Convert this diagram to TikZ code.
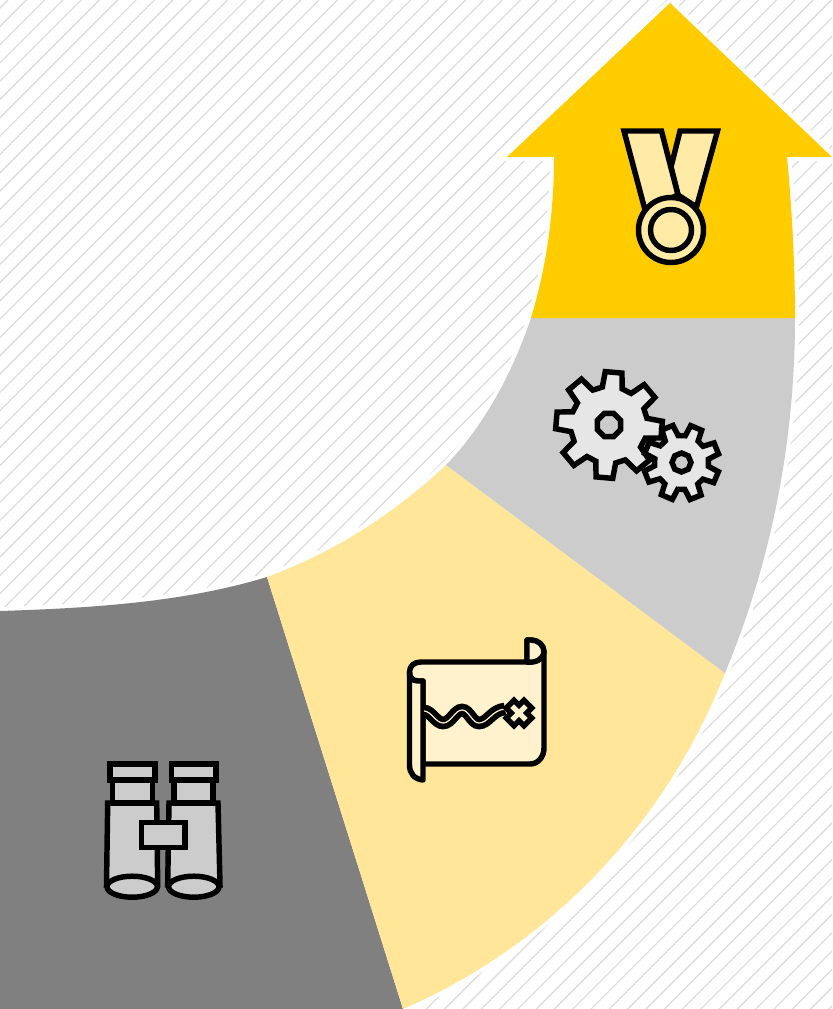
\documentclass[tikz,border=0pt]{standalone}
\definecolor{ygold}{HTML}{FFCC00}
\definecolor{ylight}{HTML}{FFE699}
\definecolor{ypale}{HTML}{FFF2CC}
\definecolor{medalpale}{HTML}{FFEBA6}
\definecolor{gearfill}{HTML}{E6E6E6}
\definecolor{midgray}{HTML}{CCCCCC}
\definecolor{darkgray}{HTML}{808080}
\definecolor{stripe}{HTML}{DADADA}
\tikzset{
  icon/.style={draw=black,line width=4.1pt,line join=miter,miter limit=3},
  stripeline/.style={draw=stripe,line width=0.85pt},
}
\newcommand{\gearpath}[5]{% rot, tip radius, root radius, tip half angle, root half angle
  (#1-#4:#2)
  \foreach \i in {0,45,...,315} {
    -- (#1+\i-#4:#2) -- (#1+\i+#4:#2) -- (#1+\i+#5:#3) -- (#1+\i+45-#5:#3)
  } -- cycle
}
\begin{document}
\begin{tikzpicture}[x=0.75pt,y=-0.75pt]
\useasboundingbox (0,0) rectangle (832,1009);
\fill[white] (0,0) rectangle (832,1009);
\begin{scope}
\clip (0,0) rectangle (832,1009);
\foreach \c in {8,26.3,...,1850} {
  \draw[stripeline] (\c,0) -- (\c-1100,1100);
}
% white halo round the band
\draw[white,line width=6pt,line join=round] (0,611) .. controls (95,608) and (185,602) .. (267,577) .. controls (335,552) and (395,513) .. (446,465) .. controls (480,430) and (510,380) .. (531,318) .. controls (546,268) and (554,215) .. (554,157) -- (507,157) -- (670,3) -- (832,157) -- (787,157) .. controls (792,210) and (795,265) .. (795,318) .. controls (795,445) and (770,565) .. (725,673) .. controls (665,825) and (550,945) .. (403,1009);
\end{scope}
% band segments
\fill[darkgray] (0,611) .. controls (95,608) and (185,602) .. (267,577) -- (403,1009) -- (0,1009) -- cycle;
\fill[ylight] (267,577) .. controls (335,552) and (395,513) .. (446,465) -- (725,673) .. controls (665,825) and (550,945) .. (403,1009) -- cycle;
\fill[midgray] (446,465) .. controls (480,430) and (510,380) .. (531,318) -- (795,318) .. controls (795,445) and (770,565) .. (725,673) -- cycle;
\fill[ygold] (531,318) .. controls (546,268) and (554,215) .. (554,157) -- (507,157) -- (670,3) -- (832,157) -- (787,157) .. controls (792,210) and (795,265) .. (795,318) -- cycle;
% medal
\draw[icon,fill=medalpale] (680,131) -- (717.5,131) -- (696.5,207) -- (678,195) -- (671,167) -- cycle;
\draw[icon,fill=medalpale] (624,131) -- (661.5,131) -- (678,195) -- (645,210) -- cycle;
\draw[icon,fill=medalpale] (671,230) circle[radius=32.5];
\draw[icon,fill=medalpale] (671,230) circle[radius=20.5];
% gears
\begin{scope}[shift={(609,425)}]
  \draw[icon,fill=gearfill] \gearpath{-85}{53.5}{38.5}{9}{15};
  \draw[icon,fill=midgray] (22.5:12.5) \foreach \i in {67.5,112.5,...,382.5} { -- (\i:12.5) } -- cycle;
\end{scope}
\begin{scope}[shift={(681.5,462.5)}]
  \draw[icon,fill=gearfill] \gearpath{-67}{38}{27}{9}{15};
  \draw[icon,fill=midgray] (0:9.5) \foreach \i in {45,90,...,315} { -- (\i:9.5) } -- cycle;
\end{scope}
% map
\draw[icon,fill=ypale,line join=round] (423,681) -- (418,681) .. controls (412,681) and (409,677) .. (409.5,672) .. controls (409.5,666) and (414,662) .. (421,662) -- (527,662) -- (527,640) -- (531,640) .. controls (538,640) and (544,645) .. (544,652) -- (544,748) .. controls (544,757) and (538,764) .. (530,764) -- (423,764) -- cycle;
\draw[icon,fill=ypale,line join=round] (527,662) .. controls (535,663) and (543,660) .. (544,652) .. controls (544,645) and (538,640) .. (531,640) -- (527,640) -- cycle;
\draw[icon,fill=ypale,line join=round] (409.5,672) .. controls (409.5,677) and (412,681) .. (418,681) -- (423,681) -- (423,780) .. controls (414,779) and (409.5,773) .. (409.5,765) -- cycle;
\draw[line width=9.5pt,black] (424,711) .. controls (431,711) and (436,723) .. (443,723) .. controls (451,723) and (455,710) .. (462,710) .. controls (469,710) and (472,723) .. (479,723) .. controls (488,723) and (492,710) .. (505,709);
\draw[line width=0.9pt,ypale] (424,711) .. controls (431,711) and (436,723) .. (443,723) .. controls (451,723) and (455,710) .. (462,710) .. controls (469,710) and (472,723) .. (479,723) .. controls (488,723) and (492,710) .. (505,709);
\begin{scope}[shift={(519,713)},rotate=45]
  \draw[icon,fill=ypale] (-5.5,-5.5) -- (-5.5,-12.5) -- (5.5,-12.5) -- (5.5,-5.5) -- (12.5,-5.5) -- (12.5,5.5) -- (5.5,5.5) -- (5.5,12.5) -- (-5.5,12.5) -- (-5.5,5.5) -- (-12.5,5.5) -- (-12.5,-5.5) -- cycle;
\end{scope}
% binoculars
\foreach \xa/\xb/\xc/\xd/\xe/\xf/\xg/\xh/\xi in {110/155/112.7/152.7/107.7/156.7/106.5/157.7/132.2, 171.7/216/174/213/169/218/167.7/220/193.8} {
  \draw[icon,fill=midgray] (\xg,885) -- (\xe,803) -- (\xf,803) -- (\xh,885) -- cycle;
  \draw[icon,fill=midgray] (\xi,886.7) ellipse[x radius=25.2,y radius=10.5];
  \draw[icon,fill=midgray] (\xc,780) rectangle (\xd,803);
  \draw[icon,fill=midgray] (\xa,764) rectangle (\xb,780);
}
\draw[icon,fill=midgray] (141.7,822.7) rectangle (185,847.3);
\end{tikzpicture}
\end{document}
